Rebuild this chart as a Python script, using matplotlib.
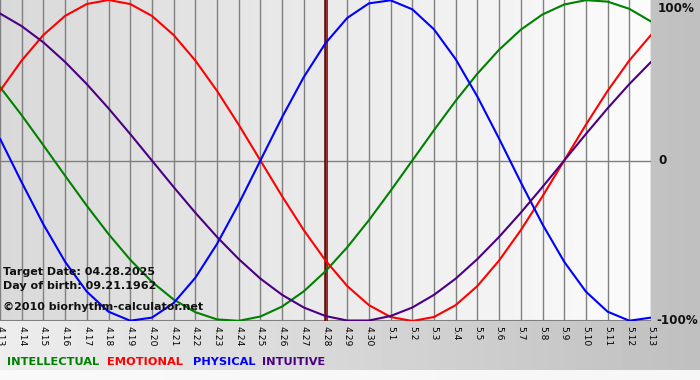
import numpy as np
import matplotlib
matplotlib.use("Agg")
import matplotlib.pyplot as plt

# Dates shown along the x axis (4.13 .. 5.13)
dates = ["4.13", "4.14", "4.15", "4.16", "4.17", "4.18", "4.19", "4.20", "4.21",
         "4.22", "4.23", "4.24", "4.25", "4.26", "4.27", "4.28", "4.29", "4.30",
         "5.1", "5.2", "5.3", "5.4", "5.5", "5.6", "5.7", "5.8", "5.9", "5.10",
         "5.11", "5.12", "5.13"]
target_idx = 15  # 4.28

# Daily cycle values (-1 .. 1)
physical = [0.136, -0.136, -0.398, -0.631, -0.817, -0.942, -0.998, -0.979, -0.888,
            -0.731, -0.520, -0.270, 0.000, 0.270, 0.520, 0.731, 0.888, 0.979,
            0.998, 0.942, 0.817, 0.631, 0.398, 0.136, -0.136, -0.398, -0.631,
            -0.817, -0.942, -0.998, -0.979]
emotional = [0.434, 0.623, 0.782, 0.901, 0.975, 1.000, 0.975, 0.901, 0.782,
             0.623, 0.434, 0.223, 0.000, -0.223, -0.434, -0.623, -0.782, -0.901,
             -0.975, -1.000, -0.975, -0.901, -0.782, -0.623, -0.434, -0.223,
             0.000, 0.223, 0.434, 0.623, 0.782]
intellectual = [0.458, 0.282, 0.095, -0.095, -0.282, -0.458, -0.618, -0.756, -0.866,
                -0.945, -0.990, -0.999, -0.972, -0.910, -0.815, -0.690, -0.541,
                -0.372, -0.189, 0.000, 0.189, 0.372, 0.541, 0.690, 0.815, 0.910,
                0.972, 0.999, 0.990, 0.945, 0.866]
intuitive = [0.916, 0.837, 0.736, 0.614, 0.476, 0.325, 0.165, 0.000, -0.165,
             -0.325, -0.476, -0.614, -0.736, -0.837, -0.916, -0.969, -0.997,
             -0.997, -0.969, -0.916, -0.837, -0.736, -0.614, -0.476, -0.325,
             -0.165, 0.000, 0.165, 0.325, 0.476, 0.614]

series = [("INTELLECTUAL", intellectual, "#008000"),
          ("EMOTIONAL", emotional, "#ff0000"),
          ("PHYSICAL", physical, "#0000ff"),
          ("INTUITIVE", intuitive, "#4b0082")]

W, H = 700, 380
fig = plt.figure(figsize=(W / 100, H / 100), dpi=100)

# outer gray gradient background, thin light strip at the very bottom
bg = fig.add_axes([0, 0, 1, 1])
bg.set_axis_off()
gx = np.linspace(0, 1, 200)[None, :]
gy = np.linspace(0, 1, 380)[:, None]
shade = 0.93 - 0.18 * gx + 0.0 * gy
shade = np.where(gy > 370 / 380, 0.975 - 0.01 * gx, shade)
bg.imshow(np.clip(shade, 0, 1), cmap="gray", vmin=0, vmax=1, aspect="auto",
          extent=[0, 1, 1, 0], interpolation="nearest")
bg.set_xlim(0, 1)
bg.set_ylim(1, 0)

# plot area in pixel terms: x 0..651, y 0..321
x0, x1 = 0, 651
y0, y1 = 0, 321
ax = fig.add_axes([x0 / W, 1 - y1 / H, (x1 - x0) / W, (y1 - y0) / H])
n = len(dates)
xs = np.arange(n)
ax.set_xlim(0, n - 1)
ax.set_ylim(-1, 1)

# inner horizontal gradient
inner = np.linspace(0.85, 0.985, 200)[None, :]
ax.imshow(inner, cmap="gray", vmin=0, vmax=1, aspect="auto",
          extent=[0, n - 1, -1, 1], zorder=0)

for x in xs:
    ax.axvline(x, color="#808080", lw=1.0, zorder=1)
ax.axhline(0, color="#808080", lw=1.0, zorder=1)
ax.axhline(-1, color="#808080", lw=1.5, zorder=1)
ax.axvline(target_idx, color="#5a1010", lw=2.6, zorder=2)
ax.axvline(target_idx, color="#9a3030", lw=0.8, zorder=2)

for name, vals, col in series:
    ax.plot(xs, vals, color=col, lw=1.5, zorder=3, solid_capstyle="round")

for s in ax.spines.values():
    s.set_visible(False)
ax.set_xticks([])
ax.set_yticks([])

# date labels
for i, d in enumerate(dates):
    fig.text((x0 + i * (x1 - x0) / (n - 1)) / W, 1 - 326 / H, d, rotation=270,
             ha="center", va="top", fontsize=6.6, color="#000000",
             family="DejaVu Sans")

# right-hand percent labels
fig.text(658 / W, 1 - 8 / H, "100%", ha="left", va="center", fontsize=8.6,
         fontweight="bold", color="#111111")
fig.text(658 / W, 1 - 161 / H, "0", ha="left", va="center", fontsize=8.6,
         fontweight="bold", color="#111111")
fig.text(656 / W, 1 - 321 / H, "-100%", ha="left", va="center", fontsize=8.6,
         fontweight="bold", color="#111111")

# info text
fig.text(3 / W, 1 - 272 / H, "Target Date: 04.28.2025", ha="left", va="center",
         fontsize=8, fontweight="bold", color="#111111")
fig.text(3 / W, 1 - 286 / H, "Day of birth: 09.21.1962", ha="left", va="center",
         fontsize=8, fontweight="bold", color="#111111")
fig.text(3 / W, 1 - 307 / H, "\u00a92010 biorhythm-calculator.net", ha="left",
         va="center", fontsize=8, fontweight="bold", color="#111111")

# legend words
lx = [7, 107, 193, 262]
for (name, vals, col), px in zip(series, lx):
    fig.text(px / W, 1 - 362 / H, name, ha="left", va="center", fontsize=8.2,
             color=col, fontweight="bold")

fig.savefig("out.png", dpi=100)
